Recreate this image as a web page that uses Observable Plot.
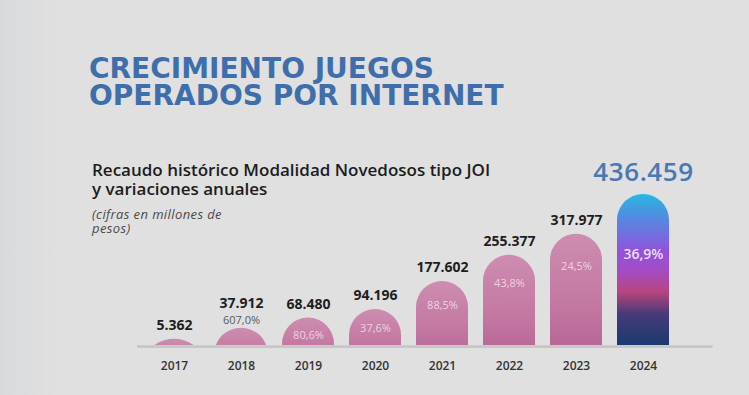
<!DOCTYPE html>
<html>
<head>
<meta charset="utf-8">
<script src="https://cdn.jsdelivr.net/npm/d3@7"></script>
<script src="https://cdn.jsdelivr.net/npm/@observablehq/plot@0.6"></script>
<style>
  html, body { margin: 0; padding: 0; background: #dfdfdf; }
  #wrap { position: relative; width: 749px; height: 395px; overflow: hidden;
          background: linear-gradient(90deg, #d9dadd 0%, #e0e0e0 8%, #e0e0e0 100%); font-family: "Open Sans", sans-serif; }
  .line { display: block; white-space: nowrap; overflow: visible; }
  #title { position: absolute; left: 89px; top: 55px; color: #3e6eab; font-weight: 700;
           font-family: "DejaVu Sans", sans-serif; font-size: 28px; }
  #title .line { height: 27px; line-height: 27px; }
  #sub { position: absolute; left: 92px; top: 161px; color: #1c1c1c; font-weight: 600;
         font-size: 17px; }
  #sub .line { height: 18.5px; line-height: 18.5px; }
  #note { position: absolute; left: 92px; top: 207px; color: #4a4a4a; font-style: italic;
          font-size: 13px; letter-spacing: 0.4px; }
  #note .line { height: 14px; line-height: 14px; }
  #chart { position: absolute; left: 0; top: 0; }
</style>
</head>
<body>
<div id="wrap">
  <div id="chart"></div>
  <div id="title"><span class="line">CRECIMIENTO JUEGOS</span><span class="line">OPERADOS POR INTERNET</span></div>
  <div id="sub"><span class="line">Recaudo histórico Modalidad Novedosos tipo JOI</span><span class="line">y variaciones anuales</span></div>
  <div id="note"><span class="line">(cifras en millones de</span><span class="line">pesos)</span></div>
</div>
<script>
// Data
const years = ["2017", "2018", "2019", "2020", "2021", "2022", "2023", "2024"];
const recaudo = [5362, 37912, 68480, 94196, 177602, 255377, 317977, 436459];
const variacion = [null, "607,0%", "80,6%", "37,6%", "88,5%", "43,8%", "24,5%", "36,9%"];

const data = years.map((y, i) => ({year: y, value: recaudo[i], pct: variacion[i], last: i === years.length - 1}));
const fmt = d3.formatLocale({decimal: ",", thousands: ".", grouping: [3], currency: ["$", ""]}).format(",d");

const ymin = -13100;             // visual floor of the bars (bars keep a minimum cap)
const ymax = d3.max(recaudo);
const below = ymin - 90000;      // bars extend below the floor and are clipped by the frame
const smallBar = v => v < 50000; // percentage shown above too-small bars

const normal = data.filter(d => !d.last);
const last = data.filter(d => d.last);

const plot = Plot.plot({
  width: 749,
  height: 395,
  marginLeft: 131,
  marginRight: 62.5,
  marginTop: 194,
  marginBottom: 50,
  style: {background: "transparent", fontFamily: "Open Sans, sans-serif", overflow: "visible"},
  x: {domain: years, padding: 0.23, label: null, axis: null},
  y: {domain: [ymin, ymax], axis: null},
  marks: [
    Plot.ruleY([ymin], {stroke: "#bdbdbd", strokeWidth: 3, insetLeft: 6, insetRight: -26, dy: 1, strokeOpacity: 0.6}),
    Plot.barY(normal, {x: "year", y1: () => below, y2: "value", rx: 26, fill: "url(#pinkGrad)", clip: true}),
    Plot.barY(last, {x: "year", y1: () => below, y2: "value", rx: 26, fill: "url(#topGrad)", clip: true}),
    Plot.ruleY([ymin], {stroke: "#c4c4c4", strokeWidth: 2, insetLeft: 6, insetRight: -26, dy: 1.5, strokeOpacity: 0.5}),
    // year labels
    Plot.text(data, {x: "year", y: () => ymin, text: "year", dy: 21, fontSize: 12, fontWeight: 600, fill: "#333"}),
    // value labels
    Plot.text(normal.filter(d => !smallBar(d.value) || !d.pct), {x: "year", y: "value", text: d => fmt(d.value), dy: -14, fontSize: 14, fontWeight: 700, fill: "#1e1e1e"}),
    Plot.text(normal.filter(d => smallBar(d.value) && d.pct), {x: "year", y: "value", text: d => fmt(d.value), dy: -25, fontSize: 14, fontWeight: 700, fill: "#1e1e1e"}),
    Plot.text(last, {x: "year", y: "value", text: d => fmt(d.value), dy: -22, fontSize: 26, fontWeight: 600, fill: "#4a78b3", style: "letter-spacing:0.6px"}),
    // percentage labels
    Plot.text(normal.filter(d => d.pct && smallBar(d.value)), {x: "year", y: "value", text: "pct", dy: -8, fontSize: 11, fill: "#5a5a5a"}),
    Plot.text(normal.filter(d => d.pct && !smallBar(d.value)), {x: "year", y: d => ymin + 0.83 * (d.value - ymin), text: "pct", dy: 13, fontSize: 11, fill: "#f4dde9", fillOpacity: 0.9}),
    Plot.text(last, {x: "year", y: d => ymin + 0.6 * (d.value - ymin), text: "pct", fontSize: 14, fontWeight: 600, fill: "#eadff7"})
  ]
});

const svg = d3.select(plot);
svg.selectAll("text").filter(function() { return this.textContent === "436.459"; }).style("letter-spacing", "0.6px");
const defs = svg.insert("defs", ":first-child");
const pg = defs.append("linearGradient").attr("id", "pinkGrad").attr("x1", 0).attr("y1", 0).attr("x2", 0).attr("y2", 1);
[[0, "#cd8db0"], [0.5, "#c378a2"], [1, "#b15b8d"]].forEach(([o, c]) => pg.append("stop").attr("offset", o).attr("stop-color", c));
const tg = defs.append("linearGradient").attr("id", "topGrad").attr("x1", 0).attr("y1", 0).attr("x2", 0).attr("y2", 1);
[[0, "#27b8e4"], [0.12, "#4f8ee0"], [0.32, "#9551dc"], [0.42, "#a24cc4"], [0.54, "#b9457f"], [0.66, "#473a78"], [0.83, "#1b3a70"], [1, "#1b3a70"]]
  .forEach(([o, c]) => tg.append("stop").attr("offset", o).attr("stop-color", c));

document.getElementById("chart").appendChild(plot);
</script>
</body>
</html>
